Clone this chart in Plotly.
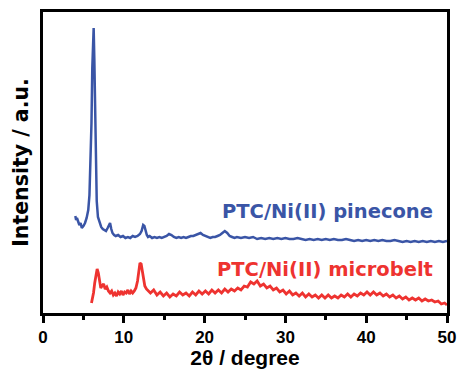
import plotly.graph_objects as go

# ---- data (2theta in degree, intensity in a.u.) ----
pinecone_2theta = [4.0, 4.1, 4.2, 4.35, 4.5, 4.65, 4.8, 5.0, 5.2, 5.4, 5.6, 5.75, 5.9, 6.0, 6.1, 6.2,
                   6.27, 6.35, 6.45, 6.55, 6.65, 6.8, 7.0, 7.2, 7.4, 7.6, 7.8, 8.0, 8.15, 8.3, 8.45,
                   8.6, 8.8, 9.0, 9.3, 9.6, 9.9, 10.2, 10.5, 10.8, 11.1, 11.4, 11.7, 12.0, 12.2, 12.4,
                   12.55, 12.7, 12.85, 13.0, 13.2, 13.5, 13.8, 14.1, 14.4, 14.7, 15.0, 15.3, 15.6,
                   15.9, 16.2, 16.5, 16.8, 17.1, 17.4, 17.7, 18.0, 18.3, 18.6, 18.9, 19.2, 19.5, 19.8,
                   20.1, 20.4, 20.7, 21.0, 21.3, 21.6, 21.9, 22.2, 22.5, 22.8, 23.1, 23.4, 23.7, 24.0,
                   24.5, 25.0, 25.5, 26.0, 26.5, 27.0, 27.5, 28.0, 28.5, 29.0, 29.5, 30.0, 30.5, 31.0,
                   31.5, 32.0, 32.5, 33.0, 33.5, 34.0, 34.5, 35.0, 35.5, 36.0, 36.5, 37.0, 37.5, 38.0,
                   38.5, 39.0, 39.5, 40.0, 40.5, 41.0, 41.5, 42.0, 42.5, 43.0, 43.5, 44.0, 44.5, 45.0,
                   45.5, 46.0, 46.5, 47.0, 47.5, 48.0, 48.5, 49.0, 49.5, 50.0]
pinecone_intensity = [97, 93, 95, 91, 88, 90, 85, 87, 90, 95, 103, 118, 150, 190, 245, 282,
                      285, 255, 195, 140, 112, 96, 90, 86, 84, 83, 82, 85, 88, 90, 84,
                      80, 78, 77, 78, 76, 77, 75, 76, 75, 77, 76, 77, 79, 82, 88,
                      87, 81, 78, 76, 77, 75, 76, 75, 76, 75, 76, 77, 79,
                      78, 76, 75, 76, 75, 76, 75, 76, 77, 77, 78, 79, 80, 78,
                      77, 76, 75, 76, 76, 77, 78, 80, 82, 80, 77, 76, 75, 76,
                      75, 76, 75, 76, 74, 75, 74, 75, 74, 75, 74, 75, 74, 74,
                      75, 74, 73, 74, 73, 74, 73, 74, 73, 74, 73, 73, 74, 73,
                      72, 73, 72, 73, 72, 73, 72, 73, 72, 72, 73, 72, 71, 72,
                      71, 72, 71, 72, 71, 72, 71, 72, 71, 72]

microbelt_2theta = [6.0, 6.1, 6.25, 6.4, 6.55, 6.7, 6.85, 7.0, 7.15, 7.3, 7.5, 7.7, 7.9, 8.1, 8.3,
                    8.5, 8.7, 8.9, 9.1, 9.3, 9.5, 9.7, 9.9, 10.1, 10.3, 10.5, 10.7, 10.9, 11.1,
                    11.3, 11.5, 11.7, 11.85, 12.0, 12.15, 12.3, 12.45, 12.6, 12.8, 13.0,
                    13.3, 13.7, 14.1, 14.5, 14.9, 15.3, 15.7, 16.1, 16.5, 16.9, 17.3, 17.7, 18.1,
                    18.5, 18.9, 19.3, 19.7, 20.1, 20.5, 20.9, 21.3, 21.7, 22.1, 22.5, 22.9, 23.3,
                    23.7, 24.1, 24.5, 24.9, 25.3, 25.7, 26.1, 26.5, 26.9, 27.3, 27.7, 28.1, 28.5,
                    28.9, 29.3, 29.7, 30.1, 30.5, 30.9, 31.3, 31.7, 32.1, 32.5, 32.9, 33.3, 33.7,
                    34.1, 34.5, 34.9, 35.3, 35.7, 36.1, 36.5, 36.9, 37.3, 37.7, 38.1, 38.5, 38.9,
                    39.3, 39.7, 40.1, 40.5, 40.9, 41.3, 41.7, 42.1, 42.5, 42.9, 43.3, 43.7, 44.1,
                    44.5, 44.9, 45.3, 45.7, 46.1, 46.5, 46.9, 47.3, 47.7, 48.1, 48.5, 48.9, 49.3,
                    49.7, 50.0]
microbelt_intensity = [10, 14, 20, 30, 40, 44, 40, 30, 25, 27, 29, 24, 26, 22, 20,
                       22, 18, 20, 17, 21, 19, 22, 18, 21, 20, 23, 19, 22, 20,
                       22, 25, 32, 42, 50, 49, 42, 33, 27, 24, 22,
                       20, 23, 18, 21, 17, 20, 16, 19, 17, 21, 18, 20, 17,
                       21, 18, 22, 19, 22, 19, 23, 20, 23, 20, 24, 21, 24,
                       22, 25, 23, 27, 26, 31, 29, 32, 27, 29, 25, 27, 23,
                       25, 21, 23, 19, 22, 18, 20, 17, 20, 16, 19, 16, 18,
                       15, 18, 15, 18, 15, 17, 15, 18, 16, 19, 16, 19, 17,
                       20, 18, 21, 18, 21, 18, 20, 17, 19, 16, 18, 15, 17,
                       14, 16, 13, 15, 13, 15, 12, 14, 12, 13, 11, 12, 9,
                       10, 8]

x_tick_values = [0, 10, 20, 30, 40, 50]
x_tick_labels = ["0", "10", "20", "30", "40", "50"]

BLUE = "#3a55a6"
RED = "#ee3330"

fig = go.Figure()
fig.add_trace(go.Scatter(x=pinecone_2theta, y=pinecone_intensity, mode="lines",
                         name="PTC/Ni(II) pinecone", line=dict(color=BLUE, width=2.5)))
fig.add_trace(go.Scatter(x=microbelt_2theta, y=microbelt_intensity, mode="lines",
                         name="PTC/Ni(II) microbelt", line=dict(color=RED, width=2.8)))

fig.add_annotation(text="<b>PTC/Ni(II) pinecone</b>", xref="paper", yref="paper",
                   x=0.97, y=0.336, xanchor="right", yanchor="middle", showarrow=False,
                   font=dict(family="DejaVu Sans", size=19.5, color=BLUE))
fig.add_annotation(text="<b>PTC/Ni(II) microbelt</b>", xref="paper", yref="paper",
                   x=0.97, y=0.143, xanchor="right", yanchor="middle", showarrow=False,
                   font=dict(family="DejaVu Sans", size=19.5, color=RED))

fig.update_layout(
    width=459, height=369,
    margin=dict(l=43, r=12, t=12, b=56),
    paper_bgcolor="white", plot_bgcolor="white",
    showlegend=False,
    font=dict(family="Liberation Sans, Arial, sans-serif", color="black"),
    xaxis=dict(
        range=[0, 50], tickmode="array", tickvals=x_tick_values,
        ticktext=["<b>%s</b>" % t for t in x_tick_labels],
        ticks="outside", ticklen=7, tickwidth=2.5, tickcolor="black",
        minor=dict(dtick=5, ticks="outside", ticklen=4, tickwidth=2.5, tickcolor="black", showgrid=False),
        showline=True, linewidth=2.8, linecolor="black", mirror=True,
        showgrid=False, zeroline=False, automargin=False,
        tickfont=dict(family="Liberation Sans", size=17, color="black"),
        title=dict(text="<b>2θ / degree</b>", font=dict(family="Liberation Sans", size=21, color="black"),
                   standoff=3),
    ),
    yaxis=dict(
        range=[0, 301], showticklabels=False, ticks="",
        showline=True, linewidth=2.8, linecolor="black", mirror=True,
        showgrid=False, zeroline=False, automargin=False,
        title=dict(text="<b>Intensity / a.u.</b>", font=dict(family="DejaVu Sans", size=20.5, color="black"),
                   standoff=6),
    ),
)

fig.write_html("out.html", config={"displayModeBar": False},
               post_script="document.body.style.margin='0';document.body.style.overflow='hidden';")
